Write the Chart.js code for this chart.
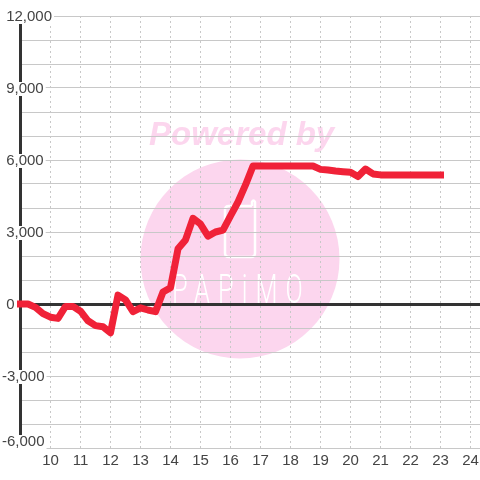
<!DOCTYPE html>
<html>
<head>
<meta charset="utf-8">
<script src="https://cdn.jsdelivr.net/npm/chart.js@4/dist/chart.umd.js"></script>
<style>
  html, body { margin: 0; padding: 0; background: #fff; }
  canvas { display: block; }
</style>
</head>
<body>
<canvas id="chart" width="480" height="480"></canvas>
<script>
const hours = [
  9, 9.25, 9.5, 9.75, 10, 10.25, 10.5, 10.75, 11, 11.25, 11.5, 11.75,
  12, 12.25, 12.5, 12.75, 13, 13.25, 13.5, 13.75, 14, 14.25, 14.5, 14.75,
  15, 15.25, 15.5, 15.75, 16, 16.25, 16.5, 16.75, 17, 17.25, 17.5, 17.75,
  18, 18.25, 18.5, 18.75, 19, 19.25, 19.5, 19.75, 20, 20.25, 20.5, 20.75,
  21, 21.25, 21.5, 21.75, 22, 22.25, 22.5, 22.75, 23
];
const balance = [
  0, 0, -140, -400, -550, -600, -100, -100, -300, -700, -900, -950,
  -1200, 370, 170, -320, -160, -250, -320, 500, 680, 2300, 2670, 3570,
  3330, 2830, 3000, 3080, 3670, 4250, 4960, 5750, 5750, 5750, 5750, 5750,
  5750, 5750, 5750, 5750, 5610, 5580, 5540, 5515, 5490, 5310, 5625, 5420,
  5380, 5380, 5380, 5380, 5380, 5380, 5380, 5380, 5380
];
const xTicks = [10, 11, 12, 13, 14, 15, 16, 17, 18, 19, 20, 21, 22, 23, 24];
const yLabelTicks = [12000, 9000, 6000, 3000, 0, -3000];
const yLowTicks = [-6000];

const pink = '#fcd6ee';
const tickFont = { family: '"Liberation Sans"', size: 15, lineHeight: '14px' };

// watermark sits behind the grid
const watermark = {
  id: 'watermark',
  beforeDraw(chart) {
    const c = chart.ctx;
    c.save();
    c.fillStyle = '#fff';
    c.fillRect(0, 0, chart.width, chart.height);

    c.fillStyle = pink;
    c.beginPath();
    c.arc(240, 259, 99.5, 0, Math.PI * 2);
    c.fill();

    c.font = 'italic bold 33px "Liberation Sans"';
    c.textBaseline = 'alphabetic';
    c.textAlign = 'left';
    c.fillText('Powered by', 149, 145);

    // phone icon
    c.strokeStyle = '#fff';
    c.lineWidth = 2.5;
    c.lineJoin = 'round';
    c.beginPath();
    c.moveTo(252, 206);
    c.lineTo(229, 206);
    c.quadraticCurveTo(225, 206, 225, 210);
    c.lineTo(225, 253);
    c.quadraticCurveTo(225, 257, 229, 257);
    c.lineTo(251, 257);
    c.quadraticCurveTo(255, 257, 255, 253);
    c.lineTo(255, 202);
    c.quadraticCurveTo(253.5, 199, 252, 202);
    c.lineTo(252, 206);
    c.stroke();

    c.fillStyle = '#fff';
    c.translate(172, 303);
    c.scale(0.62, 1);
    c.font = '300 41px Roboto';
    c.letterSpacing = '13px';
    c.fillText('PAPiMO', 0, 0);
    c.restore();
  }
};

// labels only, on copies of the y range moved a few pixels against the grid
function labelAxis(list, shiftPx) {
  const perPx = 1000 / 24;
  return {
    axis: 'y',
    position: 'left',
    weight: 1,
    min: -6000 + shiftPx * perPx,
    max: 12000 + shiftPx * perPx,
    afterBuildTicks(scale) { scale.ticks = list.map(v => ({ value: v })); },
    afterFit(scale) { scale.width = 0; },
    grid: { display: false },
    border: { display: false },
    ticks: {
      autoSkip: false,
      mirror: true,
      padding: 0,
      color: '#444',
      font: tickFont,
      showLabelBackdrop: true,
      backdropColor: '#fff',
      backdropPadding: { left: 2, right: 2, top: 0, bottom: 0 },
      callback(v) {
        const s = v.toLocaleString('en-US');
        return v < 0 ? s : ' ' + s;
      }
    }
  };
}

new Chart(document.getElementById('chart'), {
  type: 'line',
  data: {
    labels: hours,
    datasets: [{
      data: hours.map((h, i) => ({ x: h, y: balance[i] })),
      borderColor: '#f02238',
      borderWidth: 7,
      borderCapStyle: 'square',
      borderJoinStyle: 'round',
      tension: 0,
      pointRadius: 0,
      clip: false
    }]
  },
  options: {
    responsive: false,
    animation: false,
    events: [],
    layout: { padding: { left: 2, top: 16, right: 0, bottom: 0 } },
    plugins: { legend: { display: false }, tooltip: { enabled: false } },
    scales: {
      x: {
        type: 'linear',
        min: 9,
        max: 9 + 459.5 / 30,
        afterBuildTicks(scale) { scale.ticks = xTicks.map(v => ({ value: v })); },
        afterFit(scale) { scale.height = 32; },
        grid: { color: '#c8c8c8', lineWidth: 1, tickLength: 6, tickColor: 'transparent' },
        border: { display: false, dash: [2, 3] },
        ticks: { autoSkip: false, maxRotation: 0, padding: 0, color: '#444', font: tickFont }
      },
      y: {
        min: -6000,
        max: 12000,
        afterFit(scale) { scale.width = 18.5; },
        grid: {
          drawTicks: false,
          color: ctx => ctx.tick.value === 0 ? '#333' : '#c8c8c8',
          lineWidth: ctx => ctx.tick.value === 0 ? 3 : 1
        },
        border: { color: '#333', width: 3 },
        ticks: { stepSize: 1000, autoSkip: false, mirror: true, padding: 0, callback: () => '' }
      },
      yLabels: labelAxis(yLabelTicks, 1),
      yLow: labelAxis(yLowTicks, -6)
    }
  },
  plugins: [watermark]
});
</script>
</body>
</html>
